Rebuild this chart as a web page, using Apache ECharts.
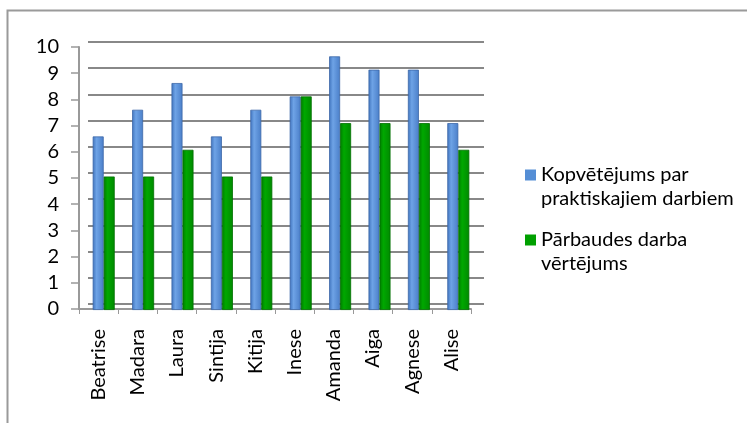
<!DOCTYPE html>
<html>
<head>
<meta charset="utf-8">
<script src="https://cdn.jsdelivr.net/npm/echarts@6/dist/echarts.min.js"></script>
<style>html,body{margin:0;padding:0;background:#fff;}#c{width:747px;height:423px;}</style>
</head>
<body>
<div id="c"></div>
<script>
const categories = ['Beatrise','Madara','Laura','Sintija','Kitija','Inese','Amanda','Aiga','Agnese','Alise'];
const seriesNames = ['Kopvētējums par praktiskajiem darbiem', 'Pārbaudes darba vērtējums'];
const legendLines = [['Kopvētējums par','praktiskajiem darbiem'], ['Pārbaudes darba','vērtējums']];
const practicalValues = [6.5, 7.5, 8.5, 6.5, 7.5, 8, 9.5, 9, 9, 7];
const testValues = [5, 5, 6, 5, 5, 8, 7, 7, 7, 6];
const yTicks = {min: 0, max: 10, interval: 1};

const FONT = 'Lato';
const chart = echarts.init(document.getElementById('c'));

function grad(c0, c1, c2) {
  return new echarts.graphic.LinearGradient(0, 0, 1, 0, [
    {offset: 0, color: c0}, {offset: 0.35, color: c1}, {offset: 1, color: c2}
  ]);
}

chart.setOption({
  animation: false,
  backgroundColor: '#fff',
  graphic: [{
    type: 'rect', shape: {x: 7.5, y: 10.5, width: 800, height: 500},
    style: {fill: 'none', stroke: '#9a9a9a', lineWidth: 2}, silent: true
  }],
  grid: [
    {left: 88, width: 396, top: 42, height: 262},   // back wall
    {left: 84, width: 394, top: 43, height: 267},   // bars
    {left: 79, width: 392, top: 47, height: 262}    // front plane
  ],
  legend: {
    orient: 'vertical', left: 525, top: 139, padding: 0, itemGap: -7,
    itemWidth: 11, itemHeight: 11, icon: 'rect',
    data: [
      {name: seriesNames[0], itemStyle: {color: '#558ed5', borderWidth: 0}},
      {name: seriesNames[1], itemStyle: {color: '#00a000', borderWidth: 0}}
    ],
    formatter: function (n) { return ' \n' + legendLines[seriesNames.indexOf(n)].join('\n'); },
    textStyle: {fontFamily: FONT, fontSize: 20, color: '#000', lineHeight: 24}
  },
  xAxis: [
    {gridIndex: 0, type: 'category', data: categories, show: false},
    {gridIndex: 1, type: 'category', data: categories, show: false},
    {gridIndex: 2, type: 'category', data: categories,
      axisLine: {show: true, lineStyle: {color: '#999', width: 2}},
      axisTick: {show: true, length: 5, lineStyle: {color: '#999', width: 1}},
      axisLabel: {rotate: 90, margin: 20, fontFamily: FONT, fontSize: 20, color: '#000'},
      splitLine: {show: false}}
  ],
  yAxis: [
    {gridIndex: 0, type: 'value', min: yTicks.min, max: yTicks.max, interval: yTicks.interval,
      axisLine: {show: false}, axisTick: {show: false}, axisLabel: {show: false},
      splitLine: {show: true, lineStyle: {color: '#888', width: 2}}},
    {gridIndex: 1, type: 'value', min: yTicks.min, max: yTicks.max, interval: yTicks.interval, show: false,
      splitLine: {show: false}},
    {gridIndex: 2, type: 'value', min: yTicks.min, max: yTicks.max, interval: yTicks.interval,
      axisLine: {show: true, lineStyle: {color: '#999', width: 2}},
      axisTick: {show: true, length: 8, inside: false, lineStyle: {color: '#999', width: 1.5}},
      axisLabel: {margin: 20, fontFamily: FONT, fontSize: 20, color: '#000'},
      splitLine: {show: false}}
  ],
  series: [
    {name: seriesNames[0], type: 'bar', xAxisIndex: 1, yAxisIndex: 1, data: practicalValues,
      barWidth: 11, barGap: '0%',
      itemStyle: {color: grad('#3f73bd', '#6ea3e6', '#4a7ec8'), borderColor: '#3d68a8', borderWidth: 0.8}},
    {name: seriesNames[1], type: 'bar', xAxisIndex: 1, yAxisIndex: 1, data: testValues,
      barWidth: 11, barGap: '0%',
      itemStyle: {color: grad('#007c00', '#00a800', '#008a00'), borderColor: '#006e00', borderWidth: 0.8}}
  ]
});
</script>
</body>
</html>
